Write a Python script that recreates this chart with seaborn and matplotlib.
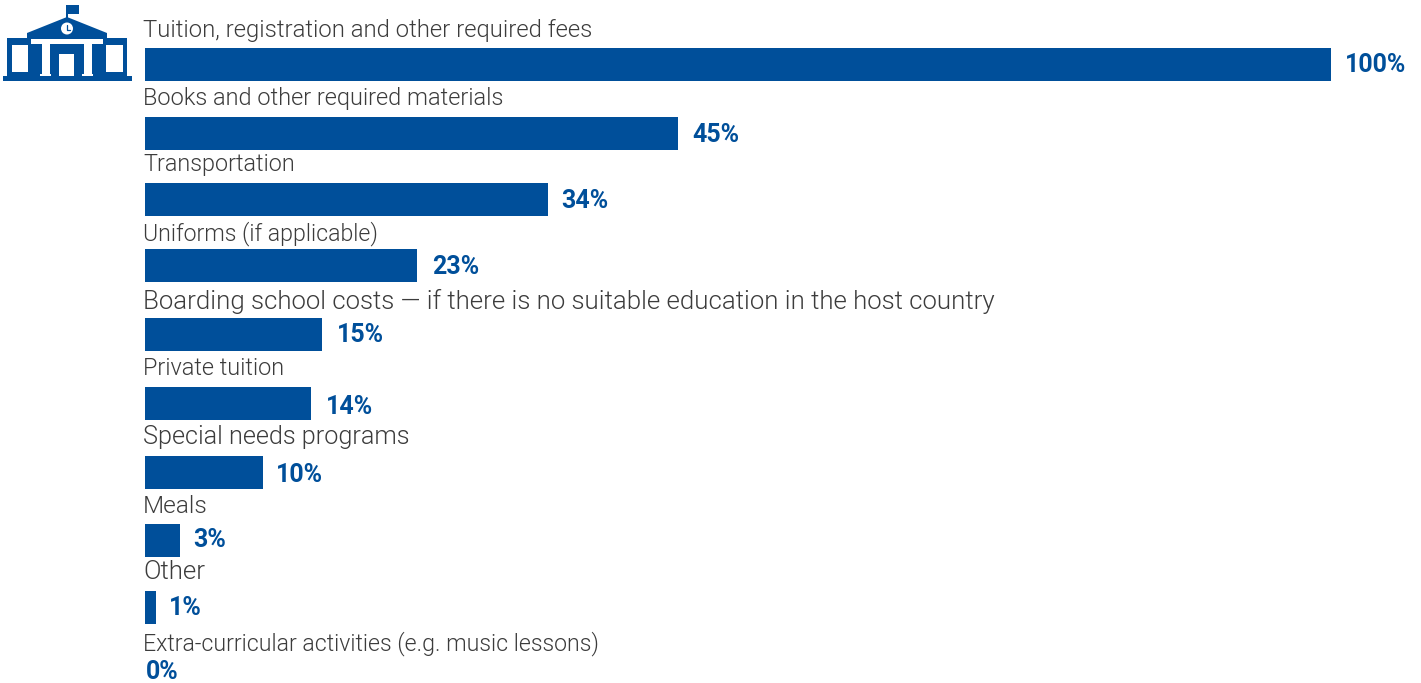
import matplotlib
matplotlib.use("Agg")
import matplotlib.pyplot as plt
from matplotlib.patches import Rectangle, Polygon, Circle
import seaborn as sns
import pandas as pd

categories = ["Tuition, registration and other required fees",
              "Books and other required materials",
              "Transportation",
              "Uniforms (if applicable)",
              "Boarding school costs — if there is no suitable education in the host country",
              "Private tuition",
              "Special needs programs",
              "Meals",
              "Other",
              "Extra-curricular activities (e.g. music lessons)"]
values = [100, 45, 34, 23, 15, 14, 10, 3, 1, 0]

BLUE = "#004f9a"
TEXT = "#3c3c3c"
W, H = 1421, 683
X0, PX_PER_UNIT = 144.5, 11.865
Y0, ROW = 64.5, 68.0
# layout nudges, in pixels (not data)
bar_nudge = [0, 1, -1, -3, -2, -1, 0, 0, -1, 0]
cat_y = [31, 99, 165, 234, 301, 369, 437, 507, 572, 644]
cat_size = [17.2, 17.0, 16.8, 16.7, 18.6, 16.9, 18.2, 17.6, 18.6, 16.7]
val_y_nudge = [1, 2, 1, -1, -1, 3, 3, 0, 0, -4]
val_gap = [14, 14, 13, 15, 14, 15, 13, 13, 13, 1]

sns.set_theme(style="white")
plt.rcParams["font.family"] = ["Roboto", "DejaVu Sans"]

fig = plt.figure(figsize=(W / 100, H / 100), dpi=100, facecolor="white")
ax = fig.add_axes([0, 0, 1, 1])
df = pd.DataFrame({"category": categories, "value": values})
sns.barplot(data=df, x="value", y="category", orient="h", color=BLUE,
            saturation=1, width=33 / ROW, ax=ax, order=categories, linewidth=0)
ax.set_xlim(-X0 / PX_PER_UNIT, (W - X0) / PX_PER_UNIT)
ax.set_ylim((H - Y0) / ROW, -Y0 / ROW)
ax.axis("off")
for p, n in zip(ax.patches, bar_nudge):
    p.set_y(p.get_y() + n / ROW)

for i, (c, v) in enumerate(zip(categories, values)):
    ax.annotate(c, xy=(0, i), xycoords="data",
                xytext=(-1.5 * 0.72, -(cat_y[i] - (Y0 + ROW * i)) * 0.72),
                textcoords="offset points", ha="left", va="center",
                fontsize=cat_size[i], fontweight=300, color=TEXT)
    ax.annotate(f"{v}%", xy=(v, i), xycoords="data",
                xytext=(val_gap[i] * 0.72, -val_y_nudge[i] * 0.72),
                textcoords="offset points", ha="left", va="center",
                fontsize=18, fontweight="bold", color=BLUE)

# building icon, in pixel coordinates
ic = fig.add_axes([0, 0, 1, 1], facecolor="none")
ic.set_xlim(0, W); ic.set_ylim(H, 0); ic.axis("off")
def R(x0, y0, x1, y1, c=BLUE):
    ic.add_patch(Rectangle((x0, y0), x1 - x0, y1 - y0, fc=c, ec="none"))
R(3, 76, 132, 81)
R(7, 38, 127, 76)
ic.add_patch(Polygon([(27, 33), (67, 17), (107, 33), (107, 40), (27, 40)], fc=BLUE, ec="none"))
R(66, 8, 68, 18)
R(66, 5, 79, 13.5)
ic.add_patch(Circle((67, 28.5), 6, fc="white", ec="none"))
ic.plot([67, 67, 70], [25, 30, 30], color=BLUE, lw=0.9)
R(31, 38.5, 103, 43.5, "white")
R(42, 43, 50, 75, "white"); R(40, 74, 51, 76, "white")
R(84, 43, 92, 75, "white"); R(82, 74, 93, 76, "white")
R(59, 54, 74, 76, "white")
R(11.5, 45, 28, 72, "white")
R(106, 45, 123, 72, "white")

fig.savefig("out.png", dpi=100)
